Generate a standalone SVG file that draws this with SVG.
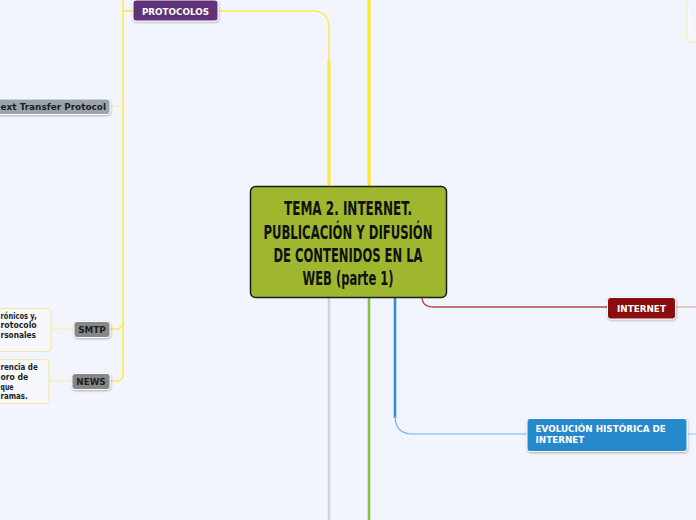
<svg xmlns="http://www.w3.org/2000/svg" width="696" height="520" viewBox="0 0 696 520">
<defs>
<filter id="sh" x="-20%" y="-30%" width="140%" height="170%">
<feDropShadow dx="0.5" dy="1" stdDeviation="0.8" flood-color="#000" flood-opacity="0.3"/>
</filter>
<style>
.lbl{font-family:"DejaVu Sans","Verdana",sans-serif;font-weight:bold;font-size:8.8px}
.w{fill:#ffffff}
.d{fill:#1e1e1e}
.node{stroke:#ffffff;stroke-width:1;filter:url(#sh)}
.tb{fill:#f6f8fd;stroke:#f7e9a0;stroke-width:1.2}
.ctr{font-family:"DejaVu Sans Condensed","DejaVu Sans",sans-serif;font-weight:bold;font-size:20px;fill:#111;text-anchor:middle}
.y{fill:none;stroke:#ffe83c;stroke-linecap:round}
.ly{fill:none;stroke:#fbf0ad;stroke-width:1.3}
</style>
</defs>
<rect x="0" y="0" width="696" height="520" fill="#f2f5fd"/>

<g id="connectors" fill="none">
<path d="M369,0 L369,187" stroke="#ffe71a" stroke-width="3"/>
<path d="M329,187 L329,60" stroke="#ffe83c" stroke-width="3"/>
<path d="M329,62 L329,28 Q329,11 312,11 L218,11" stroke="#ffe95a" stroke-width="1.6"/>
<path d="M133,11 L123,11" class="y" stroke-width="1.4"/>
<path d="M123,0 L123,374 Q123,381 116,381 L110,381" class="y" stroke-width="1.4"/>
<path d="M123,322 Q123,329 116,329 L110,329" class="y" stroke-width="1.4"/>
<path d="M122,106.5 L110,106.5" class="ly"/>
<path d="M74,329 L51,329" class="ly"/>
<path d="M72,381 L49,381" class="ly"/>
<path d="M329,297 L329,520" stroke="#d3d4da" stroke-width="2.6"/>
<path d="M369,297 L369,520" stroke="#88c348" stroke-width="2.6"/>
<path d="M395,297 L395,418" stroke="#2f8fd6" stroke-width="2.6"/>
<path d="M395,416 Q395,434 413,434 L527,434" stroke="#6fb2e4" stroke-width="1.2"/>
<path d="M687,434 L696,434" stroke="#9cc9ee" stroke-width="1"/>
<path d="M422,297 Q422,307 434,307 L607,307" stroke="#b14848" stroke-width="1.3"/>
<path d="M676,307 L696,307" stroke="#d9a0a0" stroke-width="1"/>
</g>

<g id="top-right-box">
<path d="M687,0 L687,38 Q687,42 691,42 L696,42" fill="#f6f8fd" stroke="#f7eeb0" stroke-width="1.2"/>
</g>

<g id="center">
<rect x="250.5" y="186.5" width="196" height="111" rx="5" fill="#9fb72e" stroke="#1c1c1c" stroke-width="1.5"/>
<text class="ctr" x="348" y="215" textLength="128" lengthAdjust="spacingAndGlyphs">TEMA 2. INTERNET.</text>
<text class="ctr" x="348" y="238.5" textLength="169" lengthAdjust="spacingAndGlyphs">PUBLICACIÓN Y DIFUSIÓN</text>
<text class="ctr" x="348" y="261.5" textLength="149" lengthAdjust="spacingAndGlyphs">DE CONTENIDOS EN LA</text>
<text class="ctr" x="348" y="284.5" textLength="91" lengthAdjust="spacingAndGlyphs">WEB (parte 1)</text>
</g>

<g id="protocolos">
<rect class="node" x="133" y="0" width="85" height="21" rx="3" fill="#603377"/>
<text class="lbl w" x="175.5" y="14.5" text-anchor="middle">PROTOCOLOS</text>
</g>

<g id="http">
<rect class="node" x="-5" y="99" width="115" height="15.5" rx="3" fill="#9aa4ad"/>
<text class="lbl d" x="0.5" y="110" textLength="105.5" lengthAdjust="spacingAndGlyphs">ext Transfer Protocol</text>
</g>

<g id="smtp">
<rect class="node" x="74" y="321.5" width="36" height="16" rx="3" fill="#878787"/>
<text class="lbl d" x="92" y="333" text-anchor="middle">SMTP</text>
</g>

<g id="smtp-text">
<rect class="tb" x="-6" y="308.5" width="57" height="43" rx="4"/>
<text class="lbl d" x="0.5" y="318.5" textLength="36.2" lengthAdjust="spacingAndGlyphs">rónicos y,</text>
<text class="lbl d" x="0.5" y="328" textLength="36.2" lengthAdjust="spacingAndGlyphs">rotocolo</text>
<text class="lbl d" x="0.5" y="337.5" textLength="35.5" lengthAdjust="spacingAndGlyphs">rsonales</text>
</g>

<g id="news">
<rect class="node" x="72" y="373.5" width="38" height="16" rx="3" fill="#878787"/>
<text class="lbl d" x="91" y="385" text-anchor="middle">NEWS</text>
</g>

<g id="news-text">
<rect class="tb" x="-6" y="359.5" width="55" height="44" rx="4"/>
<text class="lbl d" x="0.5" y="370" textLength="37.2" lengthAdjust="spacingAndGlyphs">rencia de</text>
<text class="lbl d" x="0.5" y="380" textLength="27.8" lengthAdjust="spacingAndGlyphs">oro de</text>
<text class="lbl d" x="0.5" y="389.5" textLength="13" lengthAdjust="spacingAndGlyphs">que</text>
<text class="lbl d" x="0.5" y="399" textLength="27.2" lengthAdjust="spacingAndGlyphs">ramas.</text>
</g>

<g id="internet">
<rect class="node" x="607.5" y="297.5" width="68" height="21.5" rx="3" fill="#8c0b0b"/>
<text class="lbl w" x="641.5" y="311.5" text-anchor="middle">INTERNET</text>
</g>

<g id="evolucion">
<rect class="node" x="527" y="418.5" width="160" height="33" rx="3" fill="#2589cb"/>
<text class="lbl w" x="535.5" y="432">EVOLUCIÓN HISTÓRICA DE</text>
<text class="lbl w" x="535.5" y="443">INTERNET</text>
</g>
</svg>
